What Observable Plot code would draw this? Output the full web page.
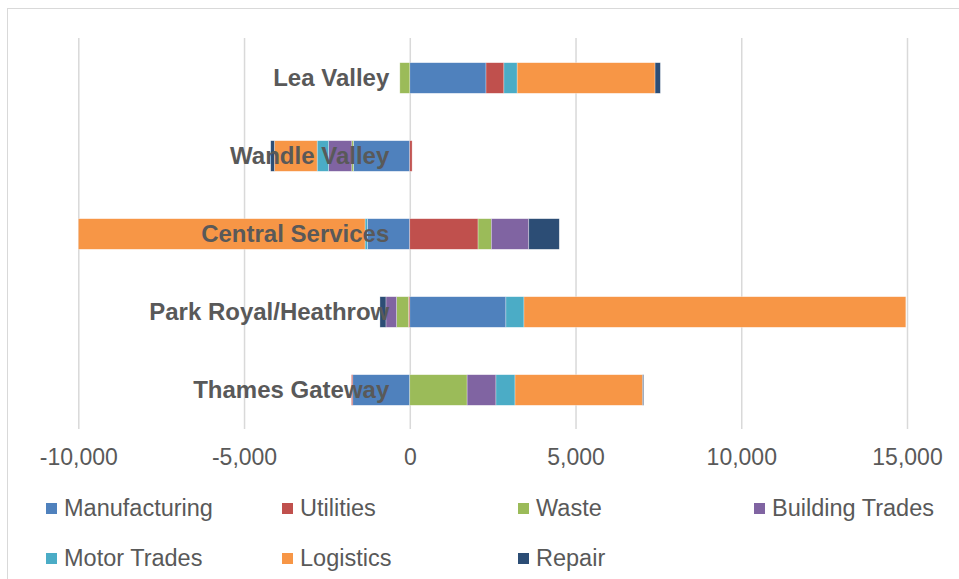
<!DOCTYPE html>
<html>
<head>
<meta charset="utf-8">
<script src="https://cdn.jsdelivr.net/npm/d3@7"></script>
<script src="https://cdn.jsdelivr.net/npm/@observablehq/plot@0.6"></script>
<style>
  html, body { margin: 0; padding: 0; background: #fff; }
  body { width: 959px; height: 579px; overflow: hidden; position: relative; font-family: Arial, "Liberation Sans", sans-serif; }
  #frame { position: absolute; left: 7px; top: 8px; width: 1000px; height: 1000px; border-left: 1.5px solid #d9d9d9; border-top: 1.5px solid #d9d9d9; pointer-events: none; }
  #legend { display: grid; grid-template-columns: repeat(4, 236px); grid-auto-rows: 50px; padding-left: 46px; padding-top: 3px; }
  .item { display: flex; align-items: center; font-size: 23.5px; color: #595959; white-space: nowrap; }
  .sw { width: 11px; height: 11px; margin-right: 7px; flex: none; }
</style>
</head>
<body>
<div id="chart"></div>
<div id="legend"></div>
<div id="frame"></div>
<script>
const categories = ["Lea Valley", "Wandle Valley", "Central Services", "Park Royal/Heathrow", "Thames Gateway"];
const seriesNames = ["Manufacturing", "Utilities", "Waste", "Building Trades", "Motor Trades", "Logistics", "Repair"];
const seriesColors = ["#4F81BD", "#C0504D", "#9BBB59", "#8064A2", "#4BACC6", "#F79646", "#2C4D75"];

const manufacturing = [2300, -1700, -1280, 2900, -1720];
const utilities     = [540, 70, 2060, -40, -40];
const waste         = [-300, -50, 400, -360, 1730];
const building      = [0, -700, 1130, -320, 870];
const motor         = [400, -345, -70, 545, 575];
const logistics     = [4160, -1290, -8650, 11520, 3850];
const repair        = [160, -110, 920, -180, 30];

const xTicks = [-10000, -5000, 0, 5000, 10000, 15000];

const seriesValues = [manufacturing, utilities, waste, building, motor, logistics, repair];
const rows = [];
categories.forEach((c, i) => {
  seriesNames.forEach((s, j) => {
    rows.push({category: c, series: s, value: seriesValues[j][i]});
  });
});

const fmt = d => d.toLocaleString("en-US");

const plot = Plot.plot({
  width: 959,
  height: 480,
  marginLeft: 78.3,
  marginRight: 52,
  marginTop: 38,
  marginBottom: 51,
  style: {fontFamily: "Arial, 'Liberation Sans', sans-serif", background: "white"},
  x: {domain: [-10000, 15000], label: null},
  y: {type: "band", domain: categories, range: [38, 429], padding: 0, axis: null},
  color: {domain: seriesNames, range: seriesColors},
  marks: [
    Plot.gridX(xTicks, {stroke: "#d9d9d9", strokeOpacity: 1, strokeWidth: 1.5}),
    Plot.barX(rows, Plot.stackX({
      x: "value", y: "category", fill: "series",
      insetTop: 23.7, insetBottom: 23.7,
      stroke: "white", strokeWidth: 0.6, strokeOpacity: 0.5
    })),
    Plot.text(categories, {
      x: d => 0, y: d => d, text: d => d, dx: -21,
      textAnchor: "end", fontWeight: "bold", fontSize: 24, fill: "#595959"
    }),
    Plot.axisX(xTicks, {
      tickSize: 0, tickPadding: 19, tickFormat: fmt, label: null,
      fontSize: 23, fill: "#595959"
    })
  ]
});
document.getElementById("chart").appendChild(plot);

const legend = document.getElementById("legend");
seriesNames.forEach((s, j) => {
  const item = document.createElement("div");
  item.className = "item";
  const sw = document.createElement("span");
  sw.className = "sw";
  sw.style.background = seriesColors[j];
  item.appendChild(sw);
  item.appendChild(document.createTextNode(s));
  legend.appendChild(item);
});
</script>
</body>
</html>
